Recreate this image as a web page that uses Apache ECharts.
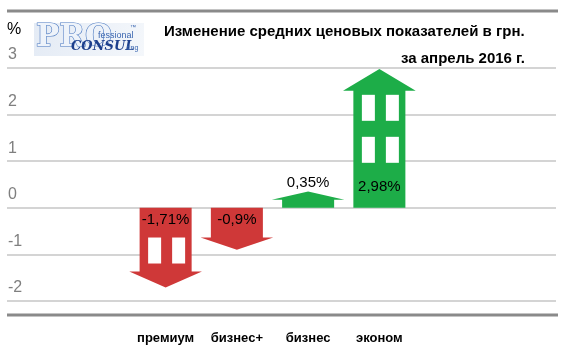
<!DOCTYPE html>
<html><head><meta charset="utf-8">
<script src="https://cdn.jsdelivr.net/npm/echarts@6/dist/echarts.min.js"></script>
<style>html,body{margin:0;padding:0;background:#fff}#c{width:571px;height:357px}</style>
</head><body><div id="c"></div>
<script>
const categories = ['премиум', 'бизнес+', 'бизнес', 'эконом'];
const values = [-1.71, -0.9, 0.35, 2.98];
const yMin = -2, yMax = 3, yStep = 1;
const titleLine1 = 'Изменение средних ценовых показателей в грн.';
const titleLine2 = 'за апрель 2016 г.';
const unitLabel = '%';

const RED = '#cf3838', GREEN = '#1dad48';
const chart = echarts.init(document.getElementById('c'), null, {renderer: 'canvas'});

function fmt(v) { return String(v).replace('.', ',') + '%'; }

function renderArrow(params, api) {
  const idx = api.value(0), v = api.value(1);
  const c = api.coord([idx, 0]);
  const t = api.coord([idx, v]);
  const band = api.size([1, 0])[0];
  const bodyW = band * 0.73, headW = band * 1.02;
  const x = c[0];
  const len = Math.abs(t[1] - c[1]);
  const dir = v >= 0 ? -1 : 1;
  const head = Math.min(len * 0.5, 8 + len * 0.1);
  const baseY = t[1] - dir * head;
  const color = v >= 0 ? GREEN : RED;
  const children = [{
    type: 'polygon',
    shape: {points: [
      [x - bodyW / 2, c[1]], [x - bodyW / 2, baseY], [x - headW / 2, baseY], [x, t[1]],
      [x + headW / 2, baseY], [x + bodyW / 2, baseY], [x + bodyW / 2, c[1]]
    ]},
    style: {fill: color}
  }];
  const bodyLen = Math.abs(baseY - c[1]);
  const rows = Math.floor(bodyLen / 45);
  const ww = 13, wh = 26, step = 42;
  for (let r = 0; r < rows; r++) {
    let top;
    if (v >= 0) top = baseY + 4 + r * step;
    else top = baseY - 8 - wh - r * step;
    [x - 11, x + 13].forEach(cx => {
      children.push({type: 'rect', shape: {x: cx - ww / 2, y: top, width: ww, height: wh}, style: {fill: '#fff'}});
    });
  }
  let ly;
  if (v < 0) ly = c[1] + 12;
  else if (len > 30) ly = c[1] - 21;
  else ly = t[1] - 9;
  children.push({
    type: 'text',
    style: {text: fmt(v), x: x, y: ly, align: 'center', verticalAlign: 'middle',
      fill: '#000', font: '15px "Liberation Sans", Arial, sans-serif'}
  });
  return {type: 'group', children: children};
}

const option = {
  animation: false,
  backgroundColor: '#fff',
  grid: [
    {left: 130, top: 68, width: 285, height: 233},
    {left: 7, top: 68, right: 15, height: 233}
  ],
  xAxis: [
    {type: 'category', gridIndex: 0, data: categories,
      axisLine: {show: false}, axisTick: {show: false},
      axisLabel: {interval: 0, margin: 31, color: '#000', fontWeight: 'bold', fontSize: 13, fontFamily: 'Liberation Sans, Arial'}},
    {type: 'value', gridIndex: 1, show: false, min: 0, max: 1}
  ],
  yAxis: [
    {type: 'value', gridIndex: 0, min: yMin, max: yMax, interval: yStep, show: false},
    {type: 'value', gridIndex: 1, min: yMin, max: yMax, interval: yStep,
      axisLine: {show: false}, axisTick: {show: false},
      splitLine: {show: true, lineStyle: {color: '#d4d4d4', width: 2}},
      axisLabel: {inside: true, margin: 1, verticalAlign: 'bottom', padding: [0, 0, 5, 0],
        color: '#7f7f7f', fontSize: 16, fontFamily: 'Liberation Sans, Arial'}}
  ],
  series: [{
    type: 'custom', xAxisIndex: 0, yAxisIndex: 0,
    data: values.map((v, i) => [i, v]),
    renderItem: renderArrow, clip: false, z: 5
  }],
  graphic: [
    {type: 'line', shape: {x1: 7, y1: 11, x2: 558, y2: 11}, style: {stroke: '#8a8a8a', lineWidth: 3}},
    {type: 'line', shape: {x1: 7, y1: 315, x2: 558, y2: 315}, style: {stroke: '#8a8a8a', lineWidth: 3}},
    {type: 'text', x: 7, y: 22, style: {text: unitLabel, fill: '#000', font: '16px "Liberation Sans", Arial'}},
    {type: 'text', x: 164, y: 24, style: {text: titleLine1, fill: '#000', font: 'bold 15px "Liberation Sans", Arial'}},
    {type: 'text', x: 525, y: 51, style: {text: titleLine2, align: 'right', fill: '#000', font: 'bold 15px "Liberation Sans", Arial'}},
    // logo
    {type: 'rect', shape: {x: 34, y: 23, width: 110, height: 33},
      style: {fill: new echarts.graphic.LinearGradient(0, 0, 1, 1, [{offset: 0, color: '#e4ebf5'}, {offset: 1, color: '#f4f7fb'}])}},
    {type: 'text', x: 36, y: 22, style: {text: 'PRO', fill: '#eef3fa', stroke: '#4a78c0', lineWidth: 1.2,
      font: 'bold 31px "DejaVu Serif", serif'}},
    {type: 'text', x: 98, y: 31, style: {text: 'fessional', fill: '#3a66b0', font: '9px "Liberation Sans", Arial'}},
    {type: 'text', x: 130, y: 24, style: {text: '™', fill: '#3a66b0', font: '6px "Liberation Sans", Arial'}},
    {type: 'text', x: 71, y: 40, style: {text: 'CONSUL', fill: '#1d3f8c', font: 'italic bold 13px "DejaVu Serif", serif'}},
    {type: 'text', x: 127, y: 45, style: {text: 'ting', fill: '#3a66b0', font: '7px "Liberation Sans", Arial'}}
  ]
};
chart.setOption(option);
</script>
</body></html>
